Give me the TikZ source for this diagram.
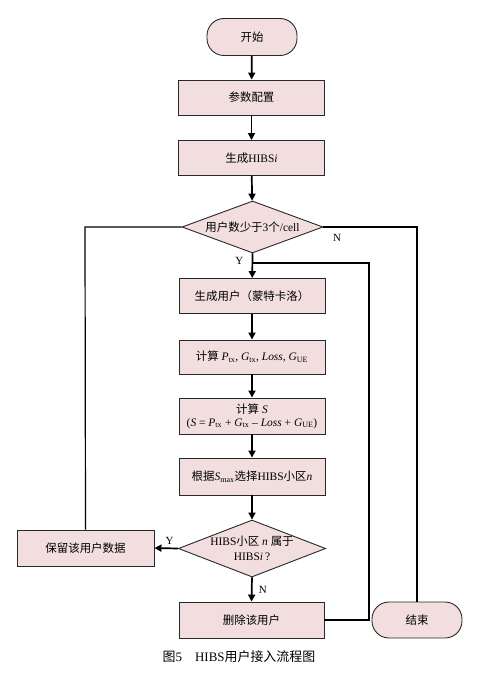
\documentclass[tikz,border=0pt]{standalone}
\usepackage{fontspec}
\setmainfont{Liberation Serif}
\newfontfamily\cjk{Noto Sans CJK SC}
\newcommand\zh[1]{{\cjk #1}}
\newcommand\sbs[1]{\textsubscript{#1}}
\usetikzlibrary{shapes.geometric,arrows.meta}
\definecolor{boxfill}{RGB}{242,222,222}
\definecolor{boxline}{RGB}{40,40,40}
\tikzset{
  base/.style={draw=boxline,fill=boxfill,line width=0.9bp,inner sep=1bp,font=\fontsize{11.5}{14}\selectfont,align=center},
  proc/.style={base,rectangle,minimum width=146bp,minimum height=35bp},
  term/.style={base,rectangle,rounded corners=17bp,minimum width=90bp,minimum height=37bp},
  decide/.style={base,diamond,aspect=2.6,inner sep=0bp},
  flow/.style={line width=1.7bp,-{Triangle[length=7bp,width=7bp]}},
  loop/.style={line width=1.2bp},
  lbl/.style={font=\fontsize{11}{12}\selectfont}
}
\begin{document}
\begin{tikzpicture}[x=1bp,y=-1bp]
\useasboundingbox (0,0) rectangle (482,678);
\node[term] (start) at (252,37) {\zh{开始}};
\node[proc] (p1) at (251.5,97.5) {\zh{参数配置}};
\node[proc] (p2) at (251.5,158) {\zh{生成}HIBS\textit{i}};
\node[decide,minimum width=141bp,minimum height=52bp] (d1) at (252.5,227) {\zh{用户数少于}3\zh{个}/cell};
\node[proc] (p3) at (252,296) {\zh{生成用户（蒙特卡洛）}};
\node[proc,minimum height=34bp] (p4) at (252,357) {\zh{计算} \textit{P}\sbs{tx}, \textit{G}\sbs{tx}, \textit{Loss}, \textit{G}\sbs{UE}};
\node[proc,minimum height=36bp,font=\fontsize{11.5}{13}\selectfont] (p5) at (252,416) {\zh{计算} \textit{S}\\(\textit{S} = \textit{P}\sbs{tx} + \textit{G}\sbs{tx} -- \textit{Loss} + \textit{G}\sbs{UE})};
\node[proc,minimum height=37bp] (p6) at (252,476.5) {\zh{根据}\textit{S}\sbs{max}\zh{选择}HIBS\zh{小区}\textit{n}};
\node[decide,minimum width=144bp,minimum height=57bp,font=\fontsize{11.5}{15}\selectfont] (d2) at (252,548.5) {HIBS\zh{小区} \textit{n} \zh{属于}\\HIBS\textit{i}\,?};
\node[proc,minimum width=137bp,minimum height=36bp] (keep) at (85.5,548) {\zh{保留该用户数据}};
\node[proc,minimum width=145bp,minimum height=36bp] (del) at (251.5,620) {\zh{删除该用户}};
\node[term,minimum height=36bp] (end) at (417,620) {\zh{结束}};
\node[font=\fontsize{13}{15}\selectfont] (cap) at (239,657) {\zh{图}5\quad HIBS\zh{用户接入流程图}};
\coordinate (c1) at (85,227);
\coordinate (c2) at (417,227);
\coordinate (c3) at (369,620);
\coordinate (c4) at (369,263);
\coordinate (c5) at (252,263);
\draw[flow] (start) -- (p1);
\draw[flow] (p1) -- (p2);
\draw[flow] (p2) -- (d1);
\draw[flow] (d1.south) -- node[lbl,left=5bp,pos=0.3] {Y} (p3);
\draw[flow] (p3) -- (p4);
\draw[flow] (p4) -- (p5);
\draw[flow] (p5) -- (p6);
\draw[flow] (p6) -- (d2);
\draw[flow] (d2.west) -- node[lbl,above,pos=0.35] {Y} (keep.east);
\draw[flow] (d2.south) -- node[lbl,right=3bp] {N} (del.north);
\draw[loop] (d1.west) -- (c1) -- (keep.north);
\draw[loop] (d1.east) -- (c2) -- (end.north);
\node[lbl] (nlab) at (337,238) {N};
\draw[loop] (del.east) -- (c3) -- (c4) -- (c5);
\end{tikzpicture}
\end{document}
